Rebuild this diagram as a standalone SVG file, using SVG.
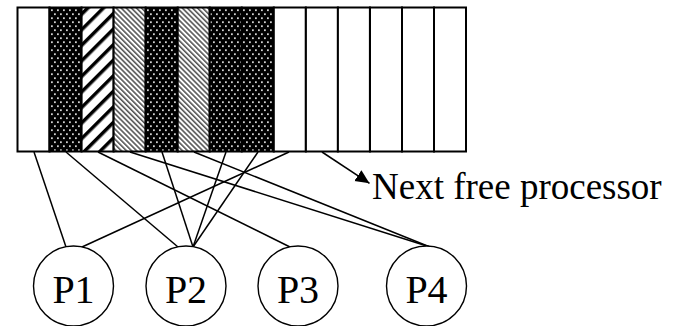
<svg xmlns="http://www.w3.org/2000/svg" width="673" height="326" viewBox="0 0 673 326">
  <defs>
    <!-- black ground with white dots -->
    <pattern id="dots" patternUnits="userSpaceOnUse" x="50" y="8" width="6" height="8">
      <rect width="6" height="8" fill="#000"/>
      <rect x="1" y="1.3" width="1.8" height="1.8" fill="#d0d0d0"/>
      <rect x="4" y="5.3" width="1.8" height="1.8" fill="#d0d0d0"/>
    </pattern>
    <!-- wide black/white stripes rising to the right -->
    <pattern id="wide" patternUnits="userSpaceOnUse" width="11" height="11" patternTransform="rotate(45)">
      <rect width="11" height="11" fill="#fff"/>
      <rect width="3.5" height="11" fill="#000"/>
    </pattern>
    <!-- fine grey stripes falling to the right -->
    <pattern id="fine" patternUnits="userSpaceOnUse" width="3.6" height="4" patternTransform="rotate(-45)">
      <rect width="3.6" height="4" fill="#fff"/>
      <rect width="1.6" height="4" fill="#555"/>
    </pattern>
    <marker id="arrow" markerWidth="15" markerHeight="14" refX="14" refY="6.5" orient="auto" markerUnits="userSpaceOnUse">
      <path d="M0,0 L14,6.5 L0,13 Z" fill="#000"/>
    </marker>
    <style>
      .cell { stroke: #000; stroke-width: 2; }
      .link { stroke: #000; stroke-width: 1.5; fill: none; }
      .proc { fill: #fff; stroke: #000; stroke-width: 1.4; }
      .lbl { font-family: "Liberation Serif", "Times New Roman", serif; fill: #000; }
    </style>
  </defs>

  <!-- processor array: 14 cells -->
  <g id="array">
    <rect class="cell" x="17.5" y="7.5" width="32" height="144" fill="#fff"/>
    <rect class="cell" x="49.5" y="7.5" width="32" height="144" fill="url(#dots)"/>
    <rect class="cell" x="81.6" y="7.5" width="32" height="144" fill="url(#wide)"/>
    <rect class="cell" x="113.6" y="7.5" width="32" height="144" fill="url(#fine)"/>
    <rect class="cell" x="145.7" y="7.5" width="32" height="144" fill="url(#dots)"/>
    <rect class="cell" x="177.7" y="7.5" width="32" height="144" fill="url(#fine)"/>
    <rect class="cell" x="209.7" y="7.5" width="32" height="144" fill="url(#dots)"/>
    <rect class="cell" x="241.8" y="7.5" width="32" height="144" fill="url(#dots)"/>
    <rect class="cell" x="273.8" y="7.5" width="32" height="144" fill="#fff"/>
    <rect class="cell" x="305.9" y="7.5" width="32" height="144" fill="#fff"/>
    <rect class="cell" x="337.9" y="7.5" width="32" height="144" fill="#fff"/>
    <rect class="cell" x="370" y="7.5" width="32" height="144" fill="#fff"/>
    <rect class="cell" x="402" y="7.5" width="32" height="144" fill="#fff"/>
    <rect class="cell" x="434" y="7.5" width="32" height="144" fill="#fff"/>
  </g>

  <!-- links from cells to processors -->
  <g id="connectors">
    <line class="link" x1="34" y1="152" x2="66" y2="247"/>
    <line class="link" x1="66" y1="152" x2="178" y2="247"/>
    <line class="link" x1="98" y1="152" x2="290" y2="247"/>
    <line class="link" x1="130" y1="152" x2="430" y2="247"/>
    <line class="link" x1="162" y1="152" x2="193" y2="247"/>
    <line class="link" x1="194" y1="152" x2="430" y2="247"/>
    <line class="link" x1="226" y1="152" x2="193" y2="247"/>
    <line class="link" x1="258" y1="152" x2="193" y2="247"/>
    <line class="link" x1="289" y1="152" x2="82" y2="247"/>
    <line class="link" x1="322" y1="152" x2="369.5" y2="183.3" marker-end="url(#arrow)"/>
  </g>

  <g id="next-free">
    <text class="lbl" x="372" y="199" font-size="37">Next free processor</text>
  </g>

  <g id="p1">
    <circle class="proc" cx="73.5" cy="286" r="40"/>
    <text class="lbl" x="73.5" y="302.5" font-size="40" text-anchor="middle">P1</text>
  </g>
  <g id="p2">
    <circle class="proc" cx="186" cy="286" r="40"/>
    <text class="lbl" x="186" y="302.5" font-size="40" text-anchor="middle">P2</text>
  </g>
  <g id="p3">
    <circle class="proc" cx="298" cy="286" r="40"/>
    <text class="lbl" x="298" y="302.5" font-size="40" text-anchor="middle">P3</text>
  </g>
  <g id="p4">
    <circle class="proc" cx="426.5" cy="286" r="40"/>
    <text class="lbl" x="426.5" y="302.5" font-size="40" text-anchor="middle">P4</text>
  </g>
</svg>
